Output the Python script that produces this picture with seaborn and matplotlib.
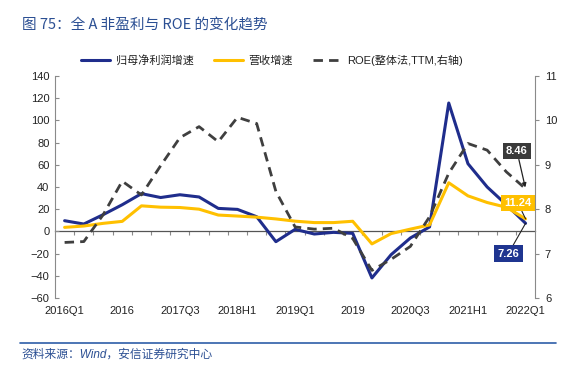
import numpy as np
import pandas as pd
import matplotlib
matplotlib.use('Agg')
import matplotlib.pyplot as plt
import seaborn as sns

# quarterly data, 2016Q1 .. 2022Q1
quarters = ['2016Q1', '2016Q2', '2016Q3', '2016Q4', '2017Q1', '2017Q2', '2017Q3',
            '2017Q4', '2018Q1', '2018Q2', '2018Q3', '2018Q4', '2019Q1', '2019Q2',
            '2019Q3', '2019Q4', '2020Q1', '2020Q2', '2020Q3', '2020Q4', '2021Q1',
            '2021Q2', '2021Q3', '2021Q4', '2022Q1']
profit_growth = [9.6, 6.6, 15.0, 24.0, 34.0, 30.5, 33.0, 31.0, 20.7, 19.8, 13.2, -9.3,
                 1.8, -2.4, -0.9, -1.8, -42.0, -21.0, -6.0, 4.0, 115.7, 61.0, 40.0,
                 24.0, 7.26]
revenue_growth = [3.6, 4.8, 7.2, 9.0, 23.0, 21.8, 21.5, 20.0, 14.7, 13.8, 12.8, 11.2,
                  9.2, 7.9, 7.9, 9.1, -11.3, -2.0, 2.0, 5.8, 43.8, 32.0, 26.0, 21.7,
                  11.24]
roe = [7.25, 7.27, 7.87, 8.63, 8.32, 8.98, 9.61, 9.86, 9.52, 10.07, 9.93, 8.40, 7.60,
       7.55, 7.57, 7.34, 6.62, 6.87, 7.16, 7.83, 8.81, 9.48, 9.33, 8.84, 8.46]

tick_pos = [0, 3, 6, 9, 12, 15, 18, 21, 24]
tick_labels = ['2016Q1', '2016', '2017Q3', '2018H1', '2019Q1', '2019', '2020Q3',
               '2021H1', '2022Q1']

df = pd.DataFrame({'quarter': quarters, 'profit': profit_growth,
                   'revenue': revenue_growth, 'roe': roe})
df['idx'] = np.arange(len(df))

sns.set_style('white')
plt.rcParams['font.family'] = ['Liberation Sans', 'Noto Sans CJK SC', 'DejaVu Sans']

BLUE = '#1f2d8c'
YELLOW = '#ffc000'
DARK = '#3f3f3f'
GRAY = '#8a8a8a'

fig = plt.figure(figsize=(5.73, 3.71), dpi=100)
ax = fig.add_axes([0.096, 0.197, 0.838, 0.598])

sns.lineplot(x='idx', y='profit', data=df, ax=ax, color=BLUE, linewidth=2.2,
             label='归母净利润增速', legend=False)
sns.lineplot(x='idx', y='revenue', data=df, ax=ax, color=YELLOW, linewidth=2.2,
             label='营收增速', legend=False)
ax.set_xlim(-0.5, len(df) - 0.5)
ax.set_ylim(-60, 140)
ax.set_yticks(np.arange(-60, 141, 20))
ax.set_xticks(tick_pos)
ax.set_xticklabels(tick_labels)
ax.set_xlabel('')
ax.set_ylabel('')
for s in ['top', 'bottom', 'right']:
    ax.spines[s].set_visible(False)
ax.spines['left'].set_color(GRAY)
ax.tick_params(axis='x', length=0, pad=6, labelsize=8, colors='#222222')
ax.tick_params(axis='y', direction='in', length=3, width=0.8, color=GRAY,
               labelsize=8, pad=4, labelcolor='#222222')

# category axis crossing at zero
secax = ax.secondary_xaxis(0.3)
secax.set_xticks(np.arange(0.5, len(df) - 1, 1))
secax.tick_params(length=3, width=0.8, direction='out', color=GRAY, labelbottom=False)
secax.spines['bottom'].set_color('#555555')
secax.spines['bottom'].set_linewidth(0.9)

ax2 = ax.twinx()
sns.lineplot(x='idx', y='roe', data=df, ax=ax2, color=DARK, linewidth=2.0,
             label='ROE(整体法,TTM,右轴)', legend=False)
ax2.lines[0].set_dashes((3.4, 2.2))
ax2.set_ylim(6, 11)
ax2.set_yticks(np.arange(6, 12, 1))
ax2.set_ylabel('')
for s in ['top', 'bottom', 'left']:
    ax2.spines[s].set_visible(False)
ax2.spines['right'].set_color(GRAY)
ax2.tick_params(axis='y', direction='out', length=3, width=0.8, color=GRAY,
                labelsize=8, pad=4, labelcolor='#222222')

# end-value labels
last = len(df) - 1
ax2.annotate(f'{roe[-1]:.2f}', xy=(last, roe[-1]), xytext=(23.55, 9.31),
             ha='center', va='center', color='white', fontsize=8, fontweight='bold',
             bbox=dict(boxstyle='square,pad=0.3', fc='#3a3a3a', ec='none'),
             arrowprops=dict(arrowstyle='-|>', color='#222222', lw=0.9,
                             shrinkA=0, shrinkB=1, mutation_scale=6))
ax.annotate(f'{revenue_growth[-1]:.2f}', xy=(last, revenue_growth[-1]),
            xytext=(23.6, 25.6), ha='center', va='center', color='white',
            fontsize=8, fontweight='bold',
            bbox=dict(boxstyle='square,pad=0.3', fc=YELLOW, ec='none'),
            arrowprops=dict(arrowstyle='-', color='#222222', lw=0.8,
                            shrinkA=0, shrinkB=0))
ax.annotate(f'{profit_growth[-1]:.2f}', xy=(last, profit_growth[-1]),
            xytext=(23.1, -20.2), ha='center', va='center', color='white',
            fontsize=8, fontweight='bold',
            bbox=dict(boxstyle='square,pad=0.3', fc='#1f3590', ec='none'),
            arrowprops=dict(arrowstyle='-', color='#222222', lw=0.8,
                            shrinkA=0, shrinkB=0))

# legend above the plot
handles = ax.get_lines()[:2] + ax2.get_lines()[:1]
labels = [h.get_label() for h in handles]
fig.legend(handles, labels, loc='center', bbox_to_anchor=(0.475, 0.838), ncol=3,
           frameon=False, fontsize=8, handlelength=2.6, columnspacing=1.8,
           handletextpad=0.5, labelcolor='#222222')

# title and source
fig.text(0.038, 0.932, '图 75：全 A 非盈利与 ROE 的变化趋势', fontsize=10.5,
         color='#2b4f93', va='center', ha='left',
         family=['Noto Sans CJK SC', 'DejaVu Sans'])
fig.add_artist(plt.Line2D([0.035, 0.97], [0.075, 0.075], color='#2e5ea8', lw=1.2))
fig.text(0.038, 0.045, '资料来源：Wind，安信证券研究中心', fontsize=8.5, style='italic',
         color='#2b4f93', va='center', ha='left',
         family=['Liberation Sans', 'Noto Sans CJK SC', 'DejaVu Sans'])

fig.savefig('out.png', dpi=100)
